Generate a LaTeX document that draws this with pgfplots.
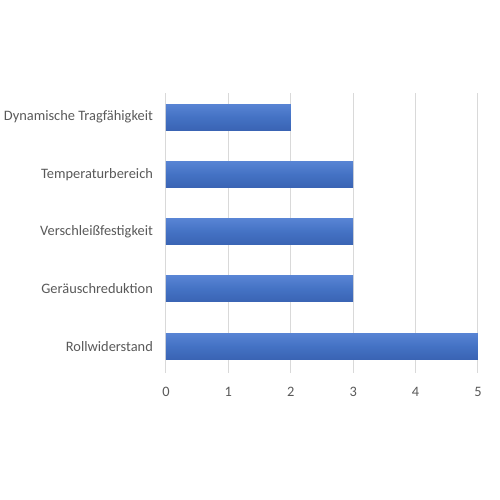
\documentclass[border=0pt]{standalone}
\usepackage{pgfplots}
\pgfplotsset{compat=1.18}
\usepackage{fontspec}
\setmainfont{Carlito}
\definecolor{barblue}{RGB}{68,114,196}
\definecolor{bartop}{RGB}{88,132,212}
\definecolor{barbot}{RGB}{58,100,180}
\definecolor{gridgray}{RGB}{217,217,217}
\definecolor{txt}{RGB}{89,89,89}
\begin{document}
\begin{tikzpicture}[x=0.75pt,y=0.75pt]
\path[use as bounding box] (0,0) rectangle (500,500);
\begin{axis}[
  at={(166*0.75pt,127*0.75pt)}, anchor=south west,
  scale only axis,
  width=234pt, height=210pt,
  xbar, bar width=19.5pt, bar shift=0pt,
  xmin=0, xmax=5,
  ymin=-0.47, ymax=4.42,
  xtick={0,1,2,3,4,5},
  ytick={0,1,2,3,4},
  yticklabels={Rollwiderstand,Geräuschreduktion,Verschleißfestigkeit,Temperaturbereich,Dynamische Tragfähigkeit},
  xmajorgrids, grid style={gridgray, line width=0.75pt},
  axis line style={draw=none},
  major tick length=0pt,
  tick label style={font=\fontsize{10.8}{13}\selectfont, text=txt},
  xticklabel style={yshift=-7pt},
  yticklabel style={xshift=-6.3pt},
  /pgf/number format/assume math mode=true,
  every axis plot/.append style={draw=none, top color=bartop, bottom color=barbot, middle color=barblue},
]
\addplot coordinates {(5,0)};
\addplot coordinates {(3,1)};
\addplot coordinates {(3,2)};
\addplot coordinates {(3,3)};
\addplot coordinates {(2,4)};
\end{axis}
\end{tikzpicture}
\end{document}
